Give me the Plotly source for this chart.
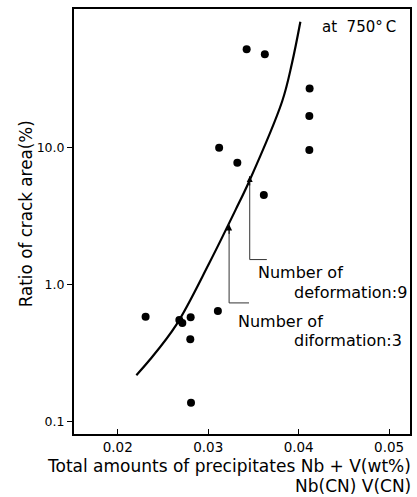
import math
import plotly.graph_objects as go

# ---- data ----
pts_x = [0.03425, 0.03626, 0.04121, 0.04118, 0.04118, 0.03121, 0.03322, 0.03615,
         0.02308, 0.02681, 0.02714, 0.02806, 0.02802, 0.03107, 0.02810]
pts_y = [51.6, 47.4, 26.8, 16.9, 9.53, 9.91, 7.71, 4.48,
         0.583, 0.552, 0.525, 0.577, 0.399, 0.641, 0.138]

curve_x = [0.02206, 0.02352, 0.02645, 0.03011, 0.03304, 0.03451, 0.03817, 0.03926, 0.04019]
curve_y = [0.219, 0.282, 0.507, 1.43, 3.51, 5.60, 21.5, 40.8, 81.8]

# arrows: x, tip y, foot y, foot end x
arrow_x = [0.03231, 0.03459]
arrow_tip = [2.74, 6.17]
arrow_foot = [0.735, 1.52]
arrow_end_x = [0.03451, 0.03648]

x_ticks = [0.02, 0.03, 0.04, 0.05]
x_ticktext = ["0.02", "0.03", "0.04", "0.05"]
y_ticks = [0.1, 1, 10]
y_ticktext = ["0.1", "1.0", "10.0"]

FONT = "DejaVu Sans"
W, H = 417, 497
L, R, T, B = 74, 5, 9, 63
PW, PH = W - L - R, H - T - B


def px(xp):
    return (xp - L) / PW


def py(yp):
    return (H - B - yp) / PH


fig = go.Figure()

fig.add_trace(go.Scatter(x=curve_x, y=curve_y, mode="lines",
                         line=dict(color="black", width=2.2, shape="spline", smoothing=1),
                         hoverinfo="skip", showlegend=False))

for i in range(len(arrow_x)):
    fig.add_trace(go.Scatter(x=[arrow_x[i], arrow_x[i], arrow_end_x[i]],
                             y=[arrow_tip[i], arrow_foot[i], arrow_foot[i]],
                             mode="lines", line=dict(color="#333", width=1),
                             hoverinfo="skip", showlegend=False))
    fig.add_annotation(x=arrow_x[i], y=math.log10(arrow_tip[i]),
                       ax=arrow_x[i], ay=math.log10(arrow_tip[i]) - 0.08,
                       xref="x", yref="y", axref="x", ayref="y",
                       text="", showarrow=True, arrowhead=2, arrowsize=1.2,
                       arrowwidth=1, arrowcolor="black")

fig.add_trace(go.Scatter(x=pts_x, y=pts_y, mode="markers",
                         marker=dict(color="black", size=8),
                         showlegend=False))

texts = [
    ("at\u00a0 750°\u2009C", 321, 27, "left", 15),
    ("Number of", 257, 272, "left", 16),
    ("deformation:9", 411, 292, "right", 16),
    ("Number of", 237, 321, "left", 16),
    ("diformation:3", 406, 340, "right", 16),
    ("Total amounts of precipitates Nb + V(wt%)", 415, 466, "right", 17),
    ("Nb(CN) V(CN)", 415, 486, "right", 17),
]
for t, xp, yp, anc, fs in texts:
    fig.add_annotation(x=px(xp), y=py(yp), xref="paper", yref="paper",
                       text=t, showarrow=False, xanchor=anc, yanchor="middle",
                       font=dict(family=FONT, size=fs, color="black"))

fig.add_annotation(x=px(26), y=py(214), xref="paper", yref="paper",
                   text="Ratio of crack area(%)", textangle=-90, showarrow=False,
                   xanchor="center", yanchor="middle",
                   font=dict(family=FONT, size=16.8, color="black"))

fig.update_xaxes(range=[0.015165, 0.052308], tickvals=x_ticks, ticktext=x_ticktext,
                 ticks="inside", ticklen=5, tickwidth=1, tickcolor="black",
                 showline=True, linewidth=2, linecolor="black", mirror=True,
                 showgrid=False, zeroline=False,
                 tickfont=dict(family=FONT, size=13.5, color="black"))
fig.update_yaxes(type="log", range=[-1.088, 2.006], tickvals=y_ticks, ticktext=y_ticktext,
                 ticks="outside", ticklen=5, tickwidth=1, tickcolor="black",
                 showline=True, linewidth=2, linecolor="black", mirror=True,
                 showgrid=False, zeroline=False,
                 tickfont=dict(family=FONT, size=12.5, color="black"))

fig.update_layout(width=W, height=H, margin=dict(l=L, r=R, t=T, b=B),
                  plot_bgcolor="white", paper_bgcolor="white", showlegend=False)

fig.write_html("out.html", config={"displayModeBar": False},
               post_script="document.body.style.margin='0px';document.body.style.overflow='hidden';")
